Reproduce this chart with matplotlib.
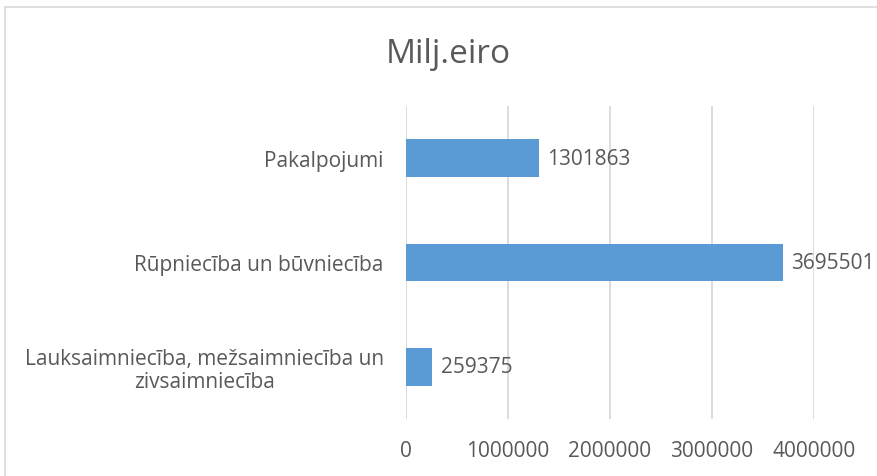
import matplotlib.pyplot as plt
from matplotlib.lines import Line2D

categories = ['Lauksaimniecība, mežsaimniecība un\nzivsaimniecība',
              'Rūpniecība un būvniecība',
              'Pakalpojumi']
values = [259375, 3695501, 1301863]
xticks = [0, 1000000, 2000000, 3000000, 4000000]

TEXT = '#595959'
GRID = '#D9D9D9'
BAR = '#5B9BD5'

plt.rcParams['font.family'] = ['Open Sans', 'DejaVu Sans']

fig = plt.figure(figsize=(8.77, 4.77), dpi=100)
ax = fig.add_axes([0.463, 0.1195, 0.465, 0.6565])

ypos = list(range(len(categories)))
ax.barh(ypos, values, height=0.36, color=BAR, zorder=3)
for y, v in zip(ypos, values):
    ax.annotate(str(v), (v, y), xytext=(6, 0), textcoords='offset points',
                va='center', ha='left', fontsize=15, color=TEXT)

ax.set_xlim(0, 4000000)
ax.set_ylim(-0.5, 2.5)
ax.set_xticks(xticks)
ax.set_xticklabels([str(t) for t in xticks])
ax.set_yticks(ypos)
ax.set_yticklabels(categories, multialignment='center', linespacing=1.1)
ax.tick_params(axis='x', length=0, pad=15, labelsize=15, labelcolor=TEXT)
ax.tick_params(axis='y', length=0, pad=16, labelsize=15, labelcolor=TEXT)
ax.grid(axis='x', color=GRID, linewidth=1.3, zorder=0)
for s in ax.spines.values():
    s.set_visible(False)

fig.text(0.511, 0.885, 'Milj.eiro', ha='center', va='center',
         fontsize=24, color=TEXT)

# chart area border (left and top edges visible)
fig.add_artist(Line2D([0.006, 0.006], [0, 0.983], transform=fig.transFigure,
                      color=GRID, linewidth=1.2))
fig.add_artist(Line2D([0.006, 1], [0.983, 0.983], transform=fig.transFigure,
                      color=GRID, linewidth=1.2))

fig.savefig('out.png', dpi=100)
